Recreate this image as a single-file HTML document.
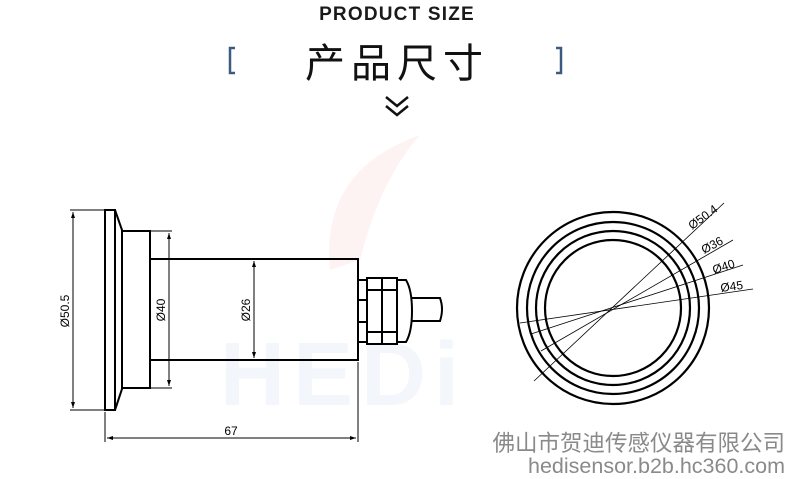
<!DOCTYPE html>
<html><head><meta charset="utf-8"><style>
html,body{margin:0;padding:0;background:#fff;}
svg{display:block}
</style></head><body>
<svg width="790" height="479" viewBox="0 0 790 479" xmlns="http://www.w3.org/2000/svg">
<!-- faint watermark -->
<text x="220" y="405" font-family="Liberation Sans, sans-serif" font-weight="bold" font-size="90" letter-spacing="8" fill="#f3f6fa">HEDi</text>
<path d="M330 270 Q320 170 420 135 Q380 180 360 260 Z" fill="#fdf3f3"/>
<text x="397" y="20" text-anchor="middle" font-family="Liberation Sans, sans-serif" font-weight="bold" font-size="19" letter-spacing="1.2" fill="#1a1a1a">PRODUCT SIZE</text>
<text x="397" y="77" text-anchor="middle" font-family="Liberation Sans, 'Noto Sans CJK SC', sans-serif" font-size="40" letter-spacing="6" fill="#111">产品尺寸</text>
<path d="M235 48 H230 V73 H235" fill="none" stroke="#3d5a80" stroke-width="2.5"/>
<path d="M556 48 H561 V73 H556" fill="none" stroke="#3d5a80" stroke-width="2.5"/>
<path d="M386 97 L397 106 L408 97 M386 106 L397 115 L408 106" fill="none" stroke="#111" stroke-width="2.5"/>

<g fill="none" stroke="#000" stroke-width="2">
<rect x="105" y="210" width="10" height="200"/>
<path d="M115 210 L122 230 L122 389 L115 410"/>
<rect x="122" y="231" width="28" height="157"/>
<rect x="150" y="259" width="208" height="101"/>
<rect x="358" y="280" width="9" height="62"/>
<rect x="367" y="278" width="15" height="66"/>
<rect x="382" y="278" width="15" height="66"/>
<path d="M397 280 L406 280 Q412 290 412 311 Q412 332 406 342 L397 342 Z"/>
<path d="M412 298 L440 298 Q444 309 440 321 L412 321"/>
<path d="M367 290 H397 M367 332 H397 M358 300 H367 M358 322 H367"/>
</g>
<g stroke="#000" stroke-width="1" fill="none">
<path d="M105 210 H70 M105 410 H70 M73 212 V408"/>
<path d="M150 231 H172 M150 388 H172 M169 233 V386"/>
<path d="M254 261 V358"/>
<path d="M105 412 V442 M358 362 V442 M107 438 H356"/>
</g>
<g fill="#000">
<path d="M73 212 l-2 6 h4z M73 408 l-2 -6 h4z M169 233 l-2 6 h4z M169 386 l-2 -6 h4z M254 261 l-2 6 h4z M254 358 l-2 -6 h4z M107 438 l6 -2 v4z M356 438 l-6 -2 v4z"/>
</g>
<g font-family="Liberation Sans, sans-serif" font-size="12" fill="#000">
<text transform="translate(69 311) rotate(-90)" text-anchor="middle">Ø50.5</text>
<text transform="translate(165 310) rotate(-90)" text-anchor="middle">Ø40</text>
<text transform="translate(250 310) rotate(-90)" text-anchor="middle">Ø26</text>
<text x="231" y="435" text-anchor="middle">67</text>
</g>

<g fill="none" stroke="#000" stroke-width="2.2">
<circle cx="613" cy="308" r="96"/>
<circle cx="613" cy="308" r="86"/>
<circle cx="613" cy="308" r="77"/>
<circle cx="613" cy="308" r="68"/>
</g>
<g stroke="#000" stroke-width="0.8">
<line x1="534" y1="381" x2="724" y2="203"/>
<line x1="541" y1="351" x2="733" y2="240"/>
<line x1="531" y1="334" x2="743" y2="265"/>
<line x1="520" y1="323" x2="753" y2="289"/>
</g>
<g font-family="Liberation Sans, sans-serif" font-size="12" fill="#000">
<text transform="translate(692 230) rotate(-36)">Ø50.4</text>
<text transform="translate(704 254) rotate(-28)">Ø36</text>
<text transform="translate(714 274) rotate(-18)">Ø40</text>
<text x="721" y="292" transform="rotate(-8 721 292)">Ø45</text>
</g>
<text x="785" y="451" text-anchor="end" font-family="'Noto Sans CJK SC', sans-serif" font-size="22.5" fill="#8a8a8a">佛山市贺迪传感仪器有限公司</text>
<text x="785" y="473" text-anchor="end" font-family="Liberation Sans, sans-serif" font-size="21.5" fill="#8a8a8a">hedisensor.b2b.hc360.com</text>
</svg>
</body></html>
